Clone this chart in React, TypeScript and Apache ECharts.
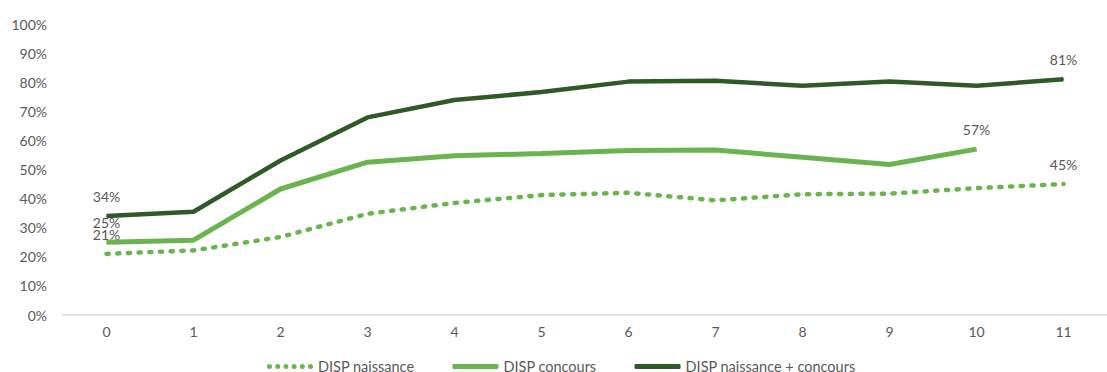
import React, { useEffect, useRef } from "react";
import * as echarts from "echarts";

const categories = ["0", "1", "2", "3", "4", "5", "6", "7", "8", "9", "10", "11"];
const yTicks = [0, 10, 20, 30, 40, 50, 60, 70, 80, 90, 100];

const dispNaissance = [21, 22.2, 26.8, 34.8, 38.5, 41.2, 42.0, 39.4, 41.5, 41.7, 43.6, 45];
const dispConcours: (number | null)[] = [25, 25.7, 43.3, 52.5, 54.7, 55.5, 56.5, 56.7, 54.2, 51.7, 57, null];
const dispTotal = [34, 35.5, 53.1, 67.9, 73.9, 76.6, 80.2, 80.5, 78.8, 80.2, 78.8, 81];

// indices whose value is printed above the line
const labelledNaissance = [0, 11];
const labelledConcours = [0, 10];
const labelledTotal = [0, 11];

const seriesNames = ["DISP naissance", "DISP concours", "DISP naissance + concours"];

const LIGHT_GREEN = "#6ab450";
const DARK_GREEN = "#2f5a27";
const TEXT_GREY = "#595959";
const FONT = "Lato, 'Open Sans', sans-serif";

// legend swatches: a row of dots, and a rounded bar, both 46 x 5
const ICON_W = 46;
const ICON_H = 5;
function dotsIcon(): string {
  const r = ICON_H / 2;
  const n = 6;
  const step = (ICON_W - 2 * r) / (n - 1);
  let d = "path://";
  for (let i = 0; i < n; i++) {
    const cx = r + i * step;
    d += `M${cx - r} ${r}a${r} ${r} 0 1 0 ${2 * r} 0a${r} ${r} 0 1 0 ${-2 * r} 0Z`;
  }
  return d;
}
const barIcon = "roundRect";

function withLabels(values: (number | null)[], labelled: number[]) {
  return values.map((v, i) =>
    v === null
      ? null
      : labelled.includes(i)
      ? { value: v, label: { show: true } }
      : v
  );
}

const dataLabel = {
  show: false,
  position: "top" as const,
  distance: 12,
  color: TEXT_GREY,
  fontSize: 14,
  fontFamily: FONT,
  formatter: (p: any) => `${Math.round(p.value)}%`,
};

export default function App() {
  const ref = useRef<HTMLDivElement>(null);

  useEffect(() => {
    if (!ref.current) return;
    const chart = echarts.init(ref.current, null, { renderer: "svg" });
    chart.setOption({
      animation: false,
      backgroundColor: "#ffffff",
      textStyle: { fontFamily: FONT },
      grid: { left: 63, right: -13, top: 24, bottom: 57 },
      legend: {
        left: 267,
        top: 359,
        padding: 0,
        itemWidth: ICON_W,
        itemHeight: ICON_H,
        itemGap: 38,
        itemStyle: { borderWidth: 0 },
        textStyle: { color: TEXT_GREY, fontSize: 14.5, lineHeight: 13, fontFamily: FONT },
        data: [
          { name: seriesNames[0], icon: dotsIcon() },
          { name: seriesNames[1], icon: barIcon },
          { name: seriesNames[2], icon: barIcon },
        ],
      },
      xAxis: {
        type: "category",
        data: categories,
        boundaryGap: true,
        axisLine: { lineStyle: { color: "#d9d9d9", width: 1.5 } },
        axisTick: { show: false },
        axisLabel: { color: TEXT_GREY, fontSize: 14, fontFamily: FONT, margin: 9 },
        splitLine: { show: false },
      },
      yAxis: {
        type: "value",
        min: yTicks[0],
        max: yTicks[yTicks.length - 1],
        interval: 10,
        axisLine: { show: false },
        axisTick: { show: false },
        splitLine: { show: false },
        axisLabel: {
          color: TEXT_GREY,
          fontSize: 14,
          fontFamily: FONT,
          margin: 16,
          formatter: "{value}%",
        },
      },
      series: [
        {
          name: seriesNames[0],
          type: "line",
          data: withLabels(dispNaissance, labelledNaissance),
          symbol: "circle",
          symbolSize: 1,
          showSymbol: true,
          color: LIGHT_GREEN,
          itemStyle: { color: LIGHT_GREEN },
          lineStyle: { color: LIGHT_GREEN, width: 4.5, type: [2.2, 8.5], cap: "round" },
          label: dataLabel,
          z: 2,
        },
        {
          name: seriesNames[1],
          type: "line",
          data: withLabels(dispConcours, labelledConcours),
          symbol: "circle",
          symbolSize: 1,
          showSymbol: true,
          color: LIGHT_GREEN,
          itemStyle: { color: LIGHT_GREEN },
          lineStyle: { color: LIGHT_GREEN, width: 5 },
          label: dataLabel,
          z: 3,
        },
        {
          name: seriesNames[2],
          type: "line",
          data: withLabels(dispTotal, labelledTotal),
          symbol: "circle",
          symbolSize: 1,
          showSymbol: true,
          color: DARK_GREEN,
          itemStyle: { color: DARK_GREEN },
          lineStyle: { color: DARK_GREEN, width: 4.5 },
          label: dataLabel,
          z: 4,
        },
      ],
    });
    return () => chart.dispose();
  }, []);

  return (
    <div style={{ position: "fixed", left: 0, top: 0, width: 1107, height: 372, background: "#fff" }}>
      <div ref={ref} style={{ width: 1107, height: 372 }} />
    </div>
  );
}
